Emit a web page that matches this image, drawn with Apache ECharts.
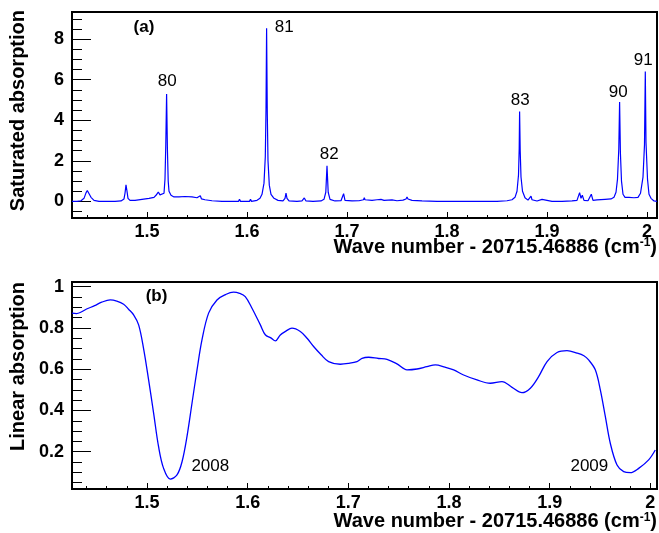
<!DOCTYPE html>
<html><head><meta charset="utf-8">
<script src="https://cdn.jsdelivr.net/npm/echarts@6/dist/echarts.min.js"></script>
<style>html,body{margin:0;padding:0;background:#fff}#c{width:659px;height:533px}</style>
</head><body><div id="c"></div>
<script>
// ---------- data ----------
const xMajorTicks = [1.5, 1.6, 1.7, 1.8, 1.9, 2.0];
const xMinorTicks = [1.44,1.46,1.48,1.52,1.54,1.56,1.58,1.62,1.64,1.66,1.68,1.72,1.74,1.76,1.78,1.82,1.84,1.86,1.88,1.92,1.94,1.96,1.98];
const satYMajorTicks = [0, 2, 4, 6, 8];
const satYMinorTicks = [-0.5,0.5,1,1.5,2.5,3,3.5,4.5,5,5.5,6.5,7,7.5,8.5,9];
const linYMajorTicks = [0.2, 0.4, 0.6, 0.8, 1];
const linYMinorTicks = [0.05,0.1,0.15,0.25,0.3,0.35,0.45,0.5,0.55,0.65,0.7,0.75,0.85,0.9,0.95];

// saturated absorption spectrum [wave number offset, absorption]
const satData = [
[1.425,0.0],[1.430,0.0],[1.434,0.03],[1.437,0.15],[1.439,0.42],[1.4403,0.54],[1.442,0.45],[1.444,0.2],[1.447,0.05],[1.452,0.0],
[1.460,0.0],[1.468,0.0],[1.474,0.02],[1.477,0.12],[1.478,0.4],[1.479,0.82],[1.480,0.5],[1.481,0.15],[1.483,0.05],[1.488,0.05],
[1.495,0.1],[1.502,0.15],[1.507,0.2],[1.509,0.3],[1.5113,0.46],[1.513,0.32],[1.515,0.25],[1.517,0.4],[1.518,1.1],[1.5188,2.8],[1.5196,5.29],[1.5204,2.6],[1.5212,1.0],[1.522,0.5],[1.524,0.3],[1.527,0.22],
[1.532,0.22],[1.538,0.24],[1.545,0.22],[1.550,0.18],[1.552,0.15],[1.5533,0.28],[1.5545,0.12],[1.558,0.08],[1.565,0.03],[1.575,0.0],
[1.585,0.0],[1.5915,0.0],[1.5925,0.1],[1.5935,0.0],[1.600,0.0],[1.6025,0.0],[1.6035,0.1],[1.6045,0.0],
[1.610,0.05],[1.613,0.15],[1.615,0.35],[1.617,0.9],[1.6183,2.2],[1.619,4.5],[1.6196,8.54],[1.6203,4.3],[1.621,2.0],[1.6223,0.8],[1.624,0.35],[1.627,0.15],[1.631,0.05],[1.636,0.02],[1.638,0.15],[1.639,0.41],[1.640,0.15],[1.642,0.02],
[1.650,0.0],[1.655,0.02],[1.6573,0.17],[1.659,0.02],[1.666,0.0],[1.674,0.02],[1.677,0.1],[1.6788,0.45],[1.680,1.76],[1.6812,0.45],[1.683,0.1],[1.688,0.02],
[1.694,0.03],[1.6966,0.38],[1.698,0.05],[1.705,0.02],[1.712,0.03],[1.7165,0.08],[1.7173,0.18],[1.718,0.08],[1.725,0.05],[1.730,0.08],[1.734,0.1],[1.737,0.05],[1.745,0.07],[1.750,0.03],[1.756,0.06],[1.759,0.12],[1.760,0.22],[1.761,0.12],[1.765,0.05],[1.775,0.02],[1.790,0.0],
[1.805,0.0],[1.820,0.0],[1.835,0.0],[1.850,0.0],[1.860,0.03],[1.865,0.08],[1.868,0.2],[1.870,0.5],[1.8715,1.3],[1.8722,2.6],[1.8726,4.43],[1.8732,2.5],[1.874,1.2],[1.8755,0.5],[1.878,0.18],[1.881,0.06],[1.883,0.1],[1.884,0.26],[1.885,0.08],[1.890,0.02],[1.895,0.1],[1.8965,0.02],
[1.905,0.0],[1.915,0.0],[1.925,0.02],[1.930,0.05],[1.9326,0.43],[1.934,0.15],[1.9353,0.3],[1.937,0.05],[1.941,0.03],[1.9443,0.35],[1.946,0.05],[1.950,0.07],[1.958,0.1],[1.964,0.12],[1.967,0.2],[1.969,0.45],[1.9705,1.1],[1.9718,2.6],[1.9726,4.9],[1.9734,2.4],[1.9745,1.0],[1.976,0.35],[1.978,0.2],[1.982,0.2],[1.984,0.25],[1.987,0.18],[1.991,0.2],[1.9935,0.4],[1.996,1.2],[1.9975,2.8],[1.9983,6.4],[1.999,2.9],[2.0005,1.1],[2.002,0.35],[2.004,0.15],[2.0053,0.12],[2.007,0.02],[2.010,0.0]
];

// linear absorption spectrum [wave number offset, absorption]
const linData = [
[1.4255,0.872],[1.4300,0.870],[1.4337,0.875],[1.4400,0.892],[1.4480,0.908],[1.4550,0.925],[1.4635,0.936],[1.4700,0.930],[1.4768,0.915],[1.4817,0.891],[1.4867,0.864],[1.4917,0.815],
[1.4966,0.700],[1.5016,0.548],[1.5066,0.386],[1.5115,0.224],[1.5165,0.119],[1.5231,0.067],[1.5298,0.087],[1.5348,0.151],
[1.5397,0.273],[1.5447,0.435],[1.5497,0.597],[1.5546,0.742],[1.5612,0.872],[1.5695,0.936],[1.5780,0.962],[1.5860,0.974],[1.5920,0.968],[1.5976,0.952],
[1.6043,0.896],[1.6126,0.815],[1.6175,0.767],[1.6230,0.752],[1.6275,0.737],[1.6324,0.766],[1.6380,0.785],[1.6440,0.799],[1.6523,0.783],[1.6590,0.750],[1.6655,0.710],
[1.6730,0.670],[1.6804,0.637],[1.6920,0.624],[1.7000,0.628],[1.7086,0.637],[1.7136,0.653],[1.7201,0.658],[1.7300,0.652],[1.7384,0.648],[1.7483,0.626],[1.7583,0.597],
[1.7682,0.601],[1.7780,0.612],[1.7864,0.621],[1.7960,0.610],[1.8046,0.597],[1.8145,0.572],[1.8278,0.548],[1.8410,0.532],[1.8526,0.540],[1.8626,0.512],
[1.8725,0.486],[1.8808,0.508],[1.8890,0.564],[1.8974,0.637],[1.9073,0.681],[1.9172,0.690],[1.9272,0.678],[1.9340,0.665],[1.9387,0.645],
[1.9453,0.597],[1.9503,0.500],[1.9553,0.370],[1.9602,0.241],[1.9669,0.135],[1.9735,0.103],[1.9801,0.098],[1.9884,0.119],
[1.9983,0.160],[2.0049,0.208]
];

const peakNames = ['80','81','82','83','90','91'];
const peakLabelX = [1.5203, 1.6373, 1.6823, 1.8733, 1.9713, 1.9963];
const peakLabelY = [5.90, 8.60, 2.30, 4.96, 5.40, 6.98];
const yearNames = ['2008','2009'];
const yearLabelX = [1.5629, 1.9394];
const yearLabelY = [0.131, 0.131];

// ---------- chart ----------
const FONT = 'Liberation Sans';
const fmt = v => String(+Number(v).toFixed(3));
function majorX(grid, min, max) {
  return {type:'value', gridIndex:grid, min:min, max:max, position:'bottom',
    axisLine:{show:false, onZero:false}, splitLine:{show:false},
    axisTick:{show:true, inside:true, length:6, customValues:xMajorTicks, lineStyle:{color:'#000', width:1}},
    axisLabel:{show:true, customValues:xMajorTicks, formatter:fmt, margin:5, color:'#000', fontSize:18, fontWeight:'bold', fontFamily:FONT}};
}
function minorX(grid, min, max) {
  return {type:'value', gridIndex:grid, min:min, max:max, position:'bottom',
    axisLine:{show:false, onZero:false}, splitLine:{show:false}, axisLabel:{show:false},
    axisTick:{show:true, inside:true, length:3, customValues:xMinorTicks, lineStyle:{color:'#000', width:1}}};
}
function majorY(grid, min, max, ticks) {
  return {type:'value', gridIndex:grid, min:min, max:max, position:'left',
    axisLine:{show:false, onZero:false}, splitLine:{show:false},
    axisTick:{show:true, inside:true, length:19, customValues:ticks, lineStyle:{color:'#000', width:1}},
    axisLabel:{show:true, customValues:ticks, formatter:fmt, margin:8, color:'#000', fontSize:18, fontWeight:'bold', fontFamily:FONT}};
}
function minorY(grid, min, max, ticks) {
  return {type:'value', gridIndex:grid, min:min, max:max, position:'left',
    axisLine:{show:false, onZero:false}, splitLine:{show:false}, axisLabel:{show:false},
    axisTick:{show:true, inside:true, length:10, customValues:ticks, lineStyle:{color:'#000', width:1}}};
}

const chart = echarts.init(document.getElementById('c'), null, {renderer:'canvas'});
const supRich = {sup:{fontSize:12, fontWeight:'bold', fontFamily:FONT, verticalAlign:'top', fill:'#000', color:'#000'}};
const annLabel = {show:true, position:'inside', formatter:p=>p.name, color:'#000', fontSize:17, fontFamily:FONT, textBorderWidth:0, opacity:1};
chart.setOption({
  animation:false,
  backgroundColor:'#fff',
  grid:[
    {left:72, right:2, top:12, height:206, show:true, borderColor:'#000', borderWidth:2, backgroundColor:'transparent'},
    {left:72, right:2, top:282, height:207, show:true, borderColor:'#000', borderWidth:2, backgroundColor:'transparent'}
  ],
  xAxis:[
    majorX(0, 1.425, 2.010), minorX(0, 1.425, 2.010),
    majorX(1, 1.4255, 2.0066), minorX(1, 1.4255, 2.0066)
  ],
  yAxis:[
    majorY(0, -0.82, 9.34, satYMajorTicks), minorY(0, -0.82, 9.34, satYMinorTicks),
    majorY(1, 0.019, 1.023, linYMajorTicks), minorY(1, 0.019, 1.023, linYMinorTicks)
  ],
  series:[
    {type:'line', xAxisIndex:0, yAxisIndex:0, data:satData, showSymbol:false, symbol:'none',
     lineStyle:{color:'#0000ff', width:1.2}, clip:true},
    {type:'line', xAxisIndex:2, yAxisIndex:2, data:linData, showSymbol:false, symbol:'none', smooth:0.35,
     lineStyle:{color:'#0000ff', width:1.3}, clip:true},
    {type:'scatter', xAxisIndex:0, yAxisIndex:0, symbolSize:0, itemStyle:{color:'#000'}, silent:true,
     data:peakNames.map((n,i)=>({name:n, value:[peakLabelX[i], peakLabelY[i]]})), label:annLabel},
    {type:'scatter', xAxisIndex:2, yAxisIndex:2, symbolSize:0, itemStyle:{color:'#000'}, silent:true,
     data:yearNames.map((n,i)=>({name:n, value:[yearLabelX[i], yearLabelY[i]]})), label:annLabel}
  ],
  graphic:[
    {type:'text', x:144, y:27.5, style:{text:'(a)', fill:'#000', fontSize:17, fontWeight:'bold', fontFamily:FONT, align:'center', verticalAlign:'middle'}},
    {type:'text', x:156.5, y:296.5, style:{text:'(b)', fill:'#000', fontSize:17, fontWeight:'bold', fontFamily:FONT, align:'center', verticalAlign:'middle'}},
    {type:'text', x:657, y:247, style:{text:'Wave number - 20715.46886 (cm{sup|-1})', rich:supRich, fill:'#000', fontSize:20, fontWeight:'bold', fontFamily:FONT, align:'right', verticalAlign:'middle'}},
    {type:'text', x:657, y:521.5, style:{text:'Wave number - 20715.46886 (cm{sup|-1})', rich:supRich, fill:'#000', fontSize:20, fontWeight:'bold', fontFamily:FONT, align:'right', verticalAlign:'middle'}},
    {type:'text', x:18.5, y:10, rotation:Math.PI/2, style:{text:'Saturated absorption', fill:'#000', fontSize:20, fontWeight:'bold', fontFamily:FONT, align:'right', verticalAlign:'middle'}},
    {type:'text', x:18.5, y:282, rotation:Math.PI/2, style:{text:'Linear absorption', fill:'#000', fontSize:20, fontWeight:'bold', fontFamily:FONT, align:'right', verticalAlign:'middle'}}
  ]
});
</script></body></html>
